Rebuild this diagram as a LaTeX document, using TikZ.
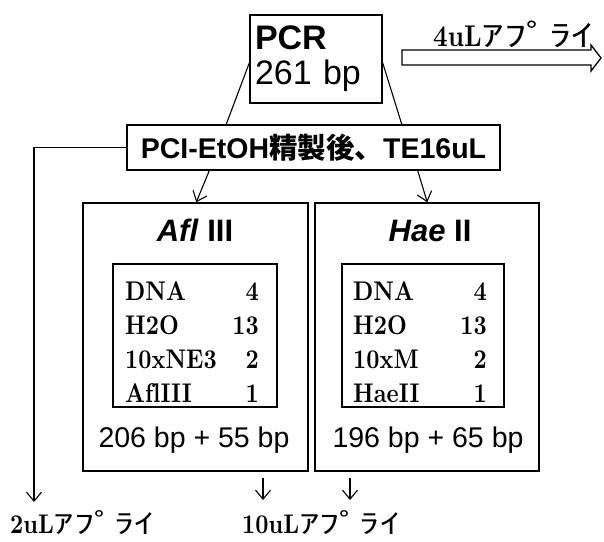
\documentclass[tikz,border=0pt]{standalone}
\usepackage{fontspec}
\setsansfont{Liberation Sans}
\newfontfamily\jpfont{Noto Sans CJK JP}
\newfontfamily\kanafont[FakeStretch=1.5]{Noto Sans CJK JP}
\newfontfamily\tabfont[FakeStretch=0.85, Ligatures=NoCommon]{lmroman10-bold.otf}
\usetikzlibrary{arrows.meta}

\newcommand{\apply}[1]{{\tabfont #1}{\kanafont ｱﾌﾟﾗｲ}}

\begin{document}
\begin{tikzpicture}[x=1pt, y=-1pt,
  box/.style={draw, line width=1.5pt, inner sep=0pt},
  arr/.style={line width=1.1pt, -{Straight Barb[length=9pt, width=15pt]}},
  link/.style={line width=1.1pt},
  cell/.style={font=\tabfont\fontsize{27}{30}\selectfont, inner sep=0pt},
  size/.style={font=\sffamily\fontsize{28.5}{32}\selectfont, inner sep=0pt},
  enzyme/.style={font=\sffamily\bfseries\fontsize{31}{34}\selectfont, inner sep=0pt},
  note/.style={font=\fontsize{27}{30}\selectfont, inner sep=0pt, anchor=base west}]
  \useasboundingbox (0,0) rectangle (604,541);
  % PCR product and purification
  \node[box, minimum width=132pt, minimum height=88pt, text width=122pt, align=left,
        font=\sffamily\fontsize{34}{35}\selectfont] (pcr) at (316,59) {\textbf{PCR}\\261 bp};
  \node[box, minimum width=373pt, minimum height=45pt,
        font=\sffamily\bfseries\fontsize{28.5}{32}\selectfont] (pci) at (313.5,147.5)
        {PCI-EtOH{\jpfont 精製後、}TE16uL};
  \draw[link] ([yshift=-4pt]pcr.west) -- ([xshift=100pt]pci.north west);
  \draw[link] ([yshift=-4pt]pcr.east) -- ([xshift=-99pt]pci.north east);
  % 4uL out
  \draw[line width=1.3pt] (402,50) -- (591,50) -- (591,45) -- (601,58) -- (591,71)
    -- (591,65) -- (402,65) -- cycle;
  \node[note, font=\fontsize{30}{32}\selectfont] (apply4) at (433,46) {\apply{4uL}};
  % digests
  \node[box, minimum width=225pt, minimum height=268pt] (afl) at (195.5,337) {};
  \node[box, minimum width=224pt, minimum height=268pt] (hae) at (427,337) {};
  \node[box, minimum width=164pt, minimum height=143pt] (aflmix) at (195,335.5) {};
  \node[box, minimum width=162pt, minimum height=143pt] (haemix) at (423,335.5) {};
  \node[enzyme, anchor=base] (afltitle) at (195,241) {\textit{Afl} III};
  \node[enzyme, anchor=base] (haetitle) at (430,241) {\textit{Hae} II};
  \foreach \lab/\val [count=\r] in {DNA/4, H2O/13, 10xNE3/2, AflIII/1} {
    \node[cell, anchor=base west] (afll\r) at (125,266+34*\r) {\lab};
    \node[cell, anchor=base east] (aflv\r) at (259,266+34*\r) {\val};
  }
  \foreach \lab/\val [count=\r] in {DNA/4, H2O/13, 10xM/2, HaeII/1} {
    \node[cell, anchor=base west] (hael\r) at (353,266+34*\r) {\lab};
    \node[cell, anchor=base east] (haev\r) at (487,266+34*\r) {\val};
  }
  \node[size, anchor=base] (aflsize) at (194,447) {206 bp + 55 bp};
  \node[size, anchor=base] (haesize) at (428,447) {196 bp + 65 bp};
  \draw[arr] ([xshift=83pt]pci.south west) -- ([xshift=114pt]afl.north west);
  \draw[arr] ([xshift=-83pt]pci.south east) -- ([xshift=113pt]hae.north west);
  % applied amounts
  \coordinate (in2) at (34,502);
  \coordinate (in10a) at (263,500);
  \coordinate (in10b) at (350,500);
  \draw[arr] (pci.west) -| (in2);
  \draw[arr, shorten <=6pt] (in10a |- afl.south) -- (in10a);
  \draw[arr, shorten <=6pt] (in10b |- hae.south) -- (in10b);
  \node[note] (apply2) at (10,533) {\apply{2uL}};
  \node[note] (apply10) at (242,533) {\apply{10uL}};
\end{tikzpicture}
\end{document}
